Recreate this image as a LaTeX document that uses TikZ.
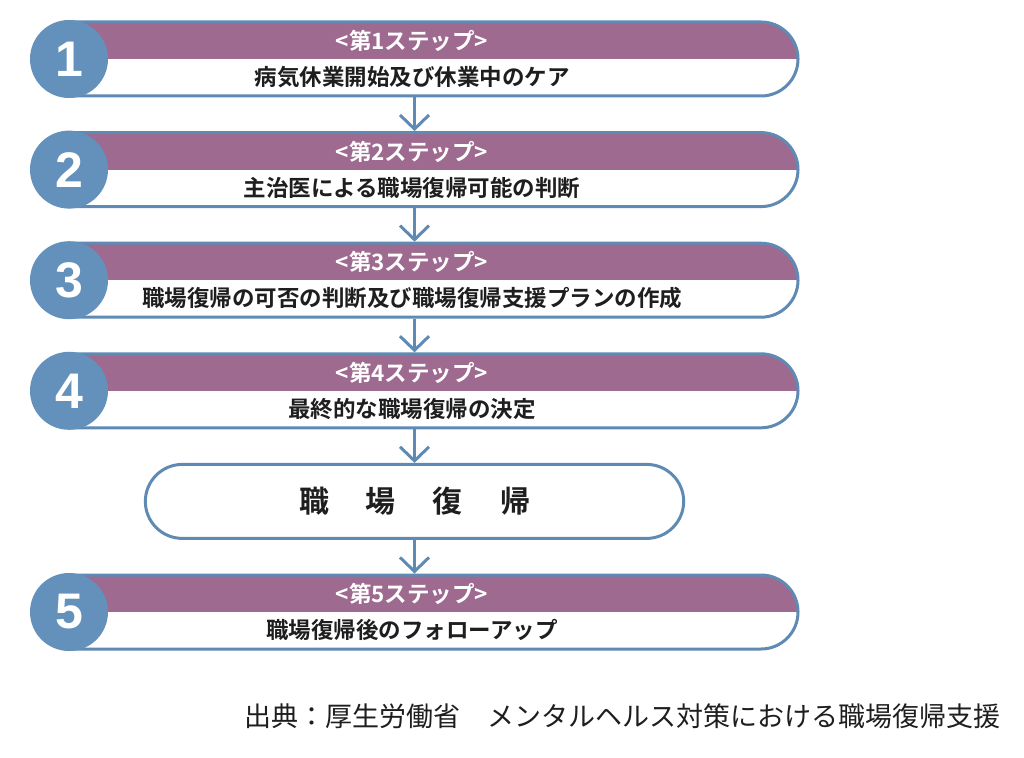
\documentclass[tikz,border=0pt]{standalone}
\usepackage{fontspec}
\newfontfamily\jp{Noto Sans CJK JP}[BoldFont={Noto Sans CJK JP Bold}]
\newfontfamily\numfont{Liberation Sans}
\usetikzlibrary{shapes.misc, arrows.meta}
\definecolor{stepblue}{RGB}{94,138,180}
\definecolor{discblue}{RGB}{100,145,187}
\definecolor{steppurple}{RGB}{158,106,143}
\definecolor{textdark}{RGB}{30,30,30}
\tikzset{
    stepbox/.style={rounded rectangle, rounded rectangle west arc=none, draw=stepblue, line width=3pt, fill=white,
        minimum width=729pt, minimum height=74pt, inner sep=0pt,
        path picture={\fill[steppurple] (path picture bounding box.north west) rectangle (path picture bounding box.east);}},
    numdisc/.style={circle, fill=discblue, minimum size=78pt, inner sep=0pt, text=white,
        font=\numfont\bfseries\fontsize{50}{50}\selectfont},
    headtext/.style={text=white, font=\jp\bfseries\fontsize{22.5}{22.5}\selectfont, inner sep=0pt},
    steptext/.style={text=textdark, font=\jp\bfseries\fontsize{22.5}{22.5}\selectfont, inner sep=0pt},
    retbox/.style={rounded rectangle, draw=stepblue, line width=3pt, fill=white, minimum width=545pt, minimum height=74pt,
        text=textdark, font=\jp\bfseries\fontsize{30}{30}\selectfont},
    flow/.style={stepblue, line width=3pt, -{Straight Barb[length=14pt, width=29pt]}},
    source/.style={text=textdark, font=\jp\fontsize{27}{27}\selectfont, inner sep=0pt}
}
\begin{document}
\begin{tikzpicture}[x=1pt, y=-1pt]
    \useasboundingbox (0,0) rectangle (1024,757);
    \foreach \n/\y/\txt in {1/59/病気休業開始及び休業中のケア, 2/169.6/主治医による職場復帰可能の判断,
        3/280.2/職場復帰の可否の判断及び職場復帰支援プランの作成, 4/390.8/最終的な職場復帰の決定,
        5/612/職場復帰後のフォローアップ} {
        \node[stepbox] (s\n) at (433.5,\y) {};
        \node[numdisc] (n\n) at (69,\y) {\n};
        \node[headtext] (h\n) at (412,\y-18) {<第{\n}ステップ>};
        \node[steptext] (t\n) at (412,\y+18) {\txt};
    }
    \node[retbox] (ret) at (414.5,501.4) {職\hspace{37pt}場\hspace{37pt}復\hspace{37pt}帰};
    \foreach \a/\b in {s1/s2, s2/s3, s3/s4, s4/ret, ret/s5}
        \draw[flow] (\a.south -| ret.center) -- (\b.north -| ret.center);
    \node[source] (src) at (622,716) {出典：厚生労働省　メンタルヘルス対策における職場復帰支援};
\end{tikzpicture}
\end{document}
